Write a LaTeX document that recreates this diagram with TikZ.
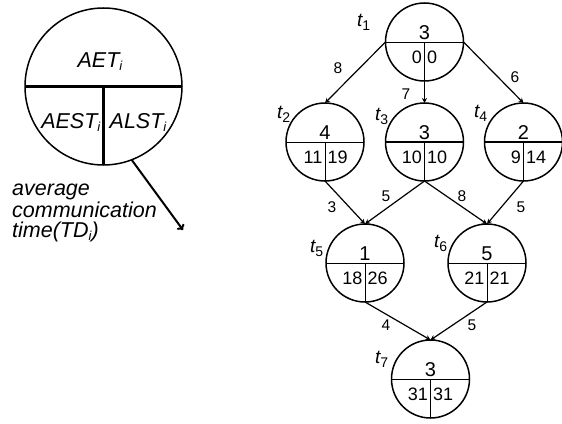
\documentclass[tikz,border=0pt]{standalone}
\usepackage{fontspec}
\setmainfont{Liberation Sans}
\usepackage{graphicx}
\usetikzlibrary{arrows.meta}
\newcommand\bigsub[1]{\raisebox{-3pt}{\fontsize{13}{13}\selectfont #1}}
\newcommand\tsub[1]{\raisebox{-4.5pt}{\fontsize{14}{14}\selectfont\upshape #1}}
\newcommand\tasknode[7]{%
  \node[tnode] (#1) at (#2,#3) {};
  \draw[line width=#7] (#1.west) -- (#1.east) (#1.center) -- (#1.south);
  \node[bignum, anchor=base] (#1top) at (#2,{#3-3}) {#4};
  \node[smallnum, anchor=base east] (#1l) at ({#2-2.5},{#3+21}) {#5};
  \node[smallnum, anchor=base west] (#1r) at ({#2+2.5},{#3+21}) {#6};
}
\begin{document}
\begin{tikzpicture}[x=1pt,y=-1pt,
  tnode/.style={circle, draw, line width=1.5pt, minimum size=78pt, inner sep=0pt, outer sep=0pt},
  bigcirc/.style={circle, draw, line width=1.5pt, minimum size=157pt, inner sep=0pt, outer sep=0pt},
  bignum/.style={font=\fontsize{20}{20}\selectfont, inner sep=0pt},
  smallnum/.style={font=\fontsize{18}{18}\selectfont, inner sep=0pt},
  elabel/.style={font=\fontsize{15.5}{15.5}\selectfont, inner sep=0pt},
  tlabel/.style={font=\fontsize{19}{19}\selectfont\itshape, inner sep=0pt, anchor=base west},
  ltext/.style={font=\fontsize{21.5}{21.5}\selectfont\itshape, inner sep=0pt},
  edge/.style={line width=1.2pt, -{Stealth[length=5pt,width=5pt]}},
  ledge/.style={line width=2pt, -{To[length=5pt,width=9pt]}}
]
\useasboundingbox (0,0) rectangle (562,423);
% legend circle
\node[bigcirc] (L) at (103.5,86.5) {};
\draw[line width=2.5pt] (L.west) -- (L.east) (L.center) -- (L.south);
\node[ltext, anchor=base] (aet) at (100,67) {AET\bigsub{i}};
\node[ltext, anchor=base east] (aest) at (100.5,128) {AEST\bigsub{i}};
\node[ltext, anchor=base west] (alst) at (109.5,128) {ALST\bigsub{i}};
\coordinate (tdend) at (183,230);
\draw[ledge] (L.-69) -- (tdend);
\node[ltext, anchor=base west, align=left, font=\fontsize{21.5}{20}\selectfont\itshape] (td) at (12,237)
  {average\\communication\\time(TD\bigsub{i})};
% task nodes
\tasknode{t1}{424.5}{42}{3}{0}{0}{1pt}
\tasknode{t2}{325}{142}{4}{11}{19}{1pt}
\tasknode{t3}{424.5}{142}{3}{10}{10}{1.8pt}
\tasknode{t4}{523.5}{142}{2}{9}{14}{1.8pt}
\tasknode{t5}{365}{263}{1}{18}{26}{1pt}
\tasknode{t6}{487}{263}{5}{21}{21}{1pt}
\tasknode{t7}{430.5}{379}{3}{31}{31}{1pt}
% names
\node[tlabel] (n1) at (357,26.5) {t\tsub{1}};
\node[tlabel] (n2) at (277,118) {t\tsub{2}};
\node[tlabel] (n3) at (375,120) {t\tsub{3}};
\node[tlabel] (n4) at (474,117) {t\tsub{4}};
\node[tlabel] (n5) at (310,252) {t\tsub{5}};
\node[tlabel] (n6) at (434,247) {t\tsub{6}};
\node[tlabel] (n7) at (375,363) {t\tsub{7}};
% edges
\draw[edge] (t1.west) -- (t2.north);
\draw[edge] (t1.south) -- (t3.north);
\draw[edge] (t1.east) -- (t4.north);
\draw[edge] (t2.south) -- (t5.north);
\draw[edge] (t3.south) -- (t5.north);
\draw[edge] (t3.south) -- (t6.north);
\draw[edge] (t4.south) -- (t6.north);
\draw[edge] (t5.south) -- (t7.north);
\draw[edge] (t6.south) -- (t7.north);
% edge labels
\node[elabel] (e12) at (338,68) {8};
\node[elabel] (e13) at (406,94) {7};
\node[elabel] (e14) at (515,77) {6};
\node[elabel] (e25) at (332,207) {3};
\node[elabel] (e35) at (386,196) {5};
\node[elabel] (e36) at (462,196) {8};
\node[elabel] (e46) at (521,207) {5};
\node[elabel] (e57) at (386,325) {4};
\node[elabel] (e67) at (472,325) {5};
\end{tikzpicture}
\end{document}
